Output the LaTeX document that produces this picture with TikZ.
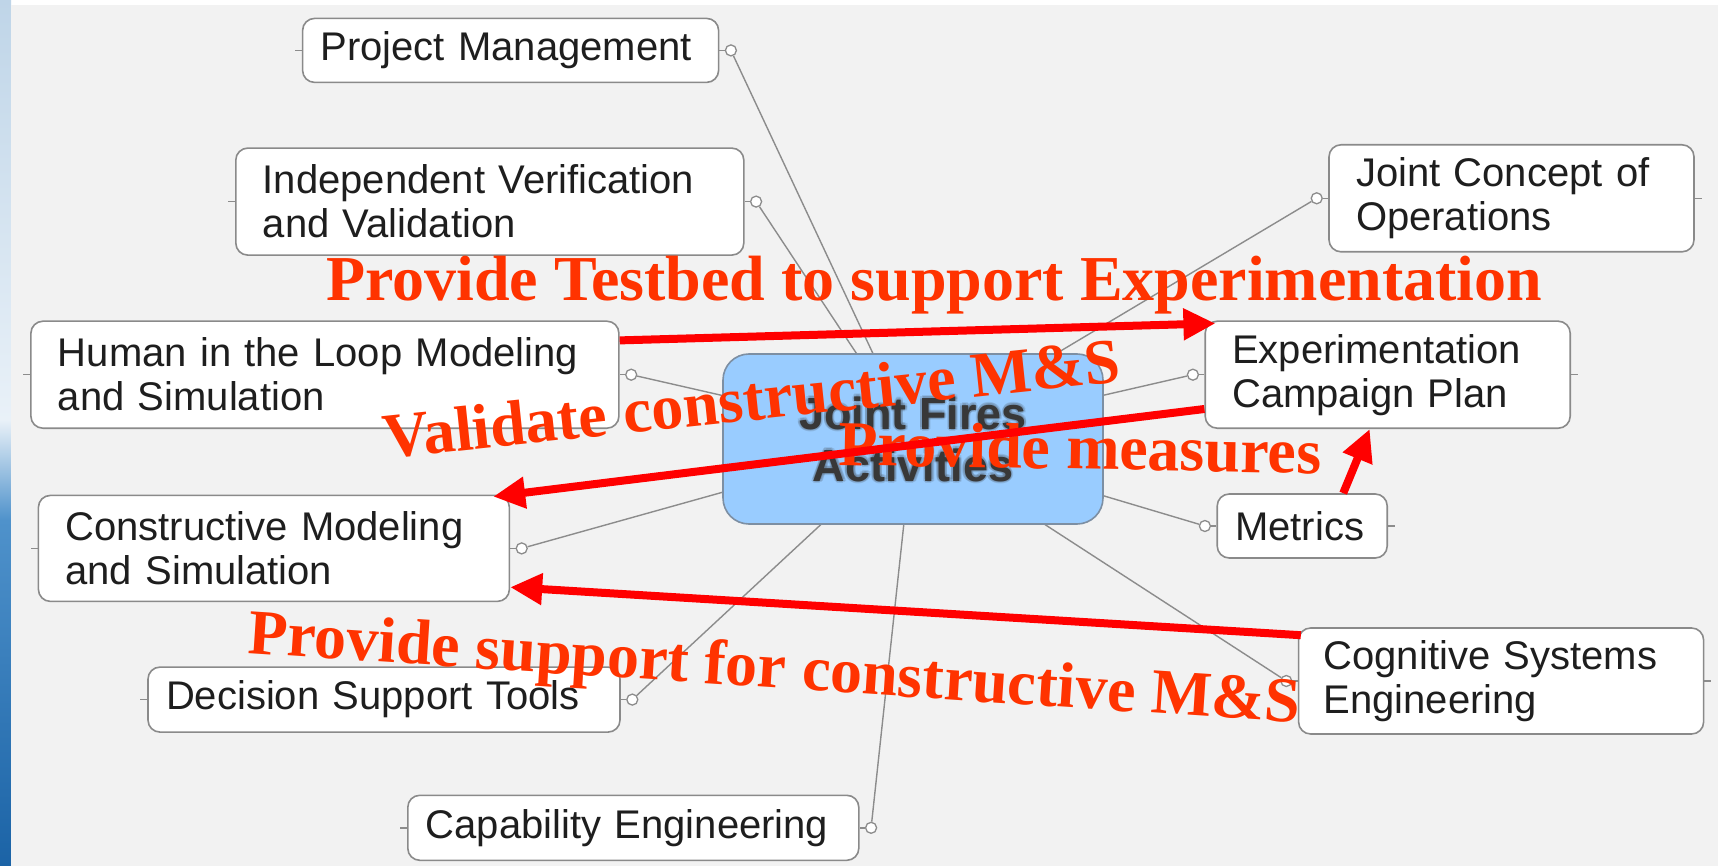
\documentclass[tikz,border=0pt]{standalone}
\usepackage{fontspec}
\setmainfont{Liberation Serif}
\newfontfamily\labelfont{Liberation Sans}
\usetikzlibrary{arrows.meta,calc}
\pgfdeclarelayer{canvas}
\pgfdeclarelayer{links}
\pgfsetlayers{canvas,links,main}
\definecolor{pagegray}{HTML}{F2F2F2}
\definecolor{boxline}{HTML}{8A8A8A}
\definecolor{linkgray}{HTML}{8C8C8C}
\definecolor{hubblue}{HTML}{99CCFF}
\definecolor{hubline}{HTML}{7D8FA3}
\definecolor{notered}{HTML}{FF3300}
\definecolor{arrowred}{HTML}{FF0000}
\definecolor{labelink}{HTML}{1E1E1E}
\definecolor{hubink}{HTML}{383838}
\definecolor{slideA}{HTML}{BFD5E8}
\definecolor{slideB}{HTML}{E9F1F8}
\definecolor{slideC}{HTML}{4F92CB}
\definecolor{slideD}{HTML}{1B63A6}
\begin{document}
\begin{tikzpicture}[x=1pt,y=-1pt,
  topic/.style={draw=boxline, line width=1.6pt, fill=white, rounded corners=12pt,
    font=\labelfont\fontsize{40}{44}\selectfont, text=labelink, align=left,
    inner ysep=0pt},
  hubnode/.style={draw=hubline, line width=1.6pt, fill=hubblue, rounded corners=26pt,
    font=\labelfont\bfseries\fontsize{45}{52}\selectfont, text=hubink, align=center,
    minimum width=380pt, minimum height=170pt},
  knob/.style={circle, draw=linkgray, line width=1.3pt, fill=white, inner sep=0pt,
    minimum size=11pt},
  linkline/.style={draw=linkgray, line width=1.4pt},
  redarrow/.style={draw=arrowred, line width=8pt, -{Triangle[length=32pt,width=30pt]}},
  rednote/.style={text=notered, font=\bfseries\fontsize{64}{70}\selectfont, inner sep=0pt}
]
\useasboundingbox (0,0) rectangle (1718,866);

% slide background: white margin, blue band on the left, grey canvas
\begin{pgfonlayer}{canvas}
\fill[white] (0,0) rectangle (1718,866);
\shade[top color=slideA, bottom color=slideB] (0,0) rectangle (11,420);
\shade[top color=slideB, bottom color=slideC] (0,420) rectangle (11,520);
\shade[top color=slideC, bottom color=slideD] (0,520) rectangle (11,866);
\fill[pagegray] (11,5) rectangle (1718,866);
\end{pgfonlayer}

% topic boxes, left side
\node[topic, minimum width=416pt, minimum height=64pt, text width=380pt, inner xsep=18pt]
  (pm) at (510.6,50.4) {Project Management};
\node[topic, minimum width=508pt, minimum height=107pt, text width=454pt, inner xsep=27pt]
  (ivv) at (489.8,201.6) {Independent Verification\\and Validation};
\node[topic, minimum width=588pt, minimum height=107pt, text width=534pt, inner xsep=27pt]
  (hitl) at (324.9,374.7) {Human in the Loop Modeling\\and Simulation};
\node[topic, minimum width=471pt, minimum height=106pt, text width=417pt, inner xsep=27pt]
  (cms) at (273.9,548.4) {Constructive Modeling\\and Simulation};
\node[topic, minimum width=472pt, minimum height=65pt, text width=436pt, inner xsep=18pt]
  (dst) at (384,699.6) {Decision Support Tools};
\node[topic, minimum width=451pt, minimum height=65pt, text width=415pt, inner xsep=18pt]
  (ce) at (633.3,827.8) {Capability Engineering};

% topic boxes, right side
\node[topic, minimum width=365pt, minimum height=107pt, text width=311pt, inner xsep=27pt]
  (jco) at (1511.5,198.3) {Joint Concept of\\Operations};
\node[topic, minimum width=365pt, minimum height=107pt, text width=311pt, inner xsep=27pt]
  (ecp) at (1387.7,374.7) {Experimentation\\Campaign Plan};
\node[topic, minimum width=170pt, minimum height=64pt, text width=134pt, inner xsep=18pt]
  (met) at (1302.2,526) {Metrics};
\node[topic, minimum width=405pt, minimum height=106pt, text width=355pt, inner xsep=25pt]
  (cse) at (1501.1,681) {Cognitive Systems\\Engineering};

% connection knobs and outer stubs
\foreach \n in {pm,ivv,hitl,cms,dst,ce} {
  \node[knob] (\n-knob) at ($(\n.east)+(11.5,0)$) {};
  \coordinate (\n-stub) at ($(\n.west)+(-7,0)$);
}
\foreach \n in {jco,ecp,met,cse} {
  \node[knob] (\n-knob) at ($(\n.west)+(-11.5,0)$) {};
  \coordinate (\n-stub) at ($(\n.east)+(7,0)$);
}

% central topic with a soft halo round its label
\node[hubnode] (hub) at (913,439) {Joint Fires\\Activities};
\foreach \a [count=\i] in {0,45,...,315} {
  \node[font=\labelfont\bfseries\fontsize{45}{52}\selectfont, align=center,
    text=hubink, text opacity=0.13] (hubhalo-\i) at ($(hub)+(\a:2.2)$) {Joint Fires\\Activities};
}

% links from the central topic, kept underneath the boxes
\begin{pgfonlayer}{links}
\foreach \n in {pm,ivv,hitl,cms,dst,ce,jco,ecp,met,cse} {
  \draw[linkline] (hub.center) -- (\n-knob);
  \draw[linkline] (\n-knob) -- (\n);
  \draw[linkline] (\n) -- (\n-stub);
}
\end{pgfonlayer}

% annotations
\node[rednote, anchor=base west] (tbed) at (326,301)
  {Provide Testbed to support Experimentation};
\node[rednote, anchor=base west, rotate=6] (valid) at (385,459)
  {Validate constructive M\&S};
\node[rednote, anchor=base west, rotate=-1] (meas) at (838,465)
  {Provide measures};
\node[rednote, anchor=base west, rotate=-3.8] (supp) at (247,653)
  {Provide support for constructive M\&S};

% relations
\draw[redarrow] ($(hitl.north east)+(0,20)$) -- ($(ecp.north west)+(11,3)$);
\draw[redarrow] ($(ecp.south west)+(0,-20)$) -- ($(cms.north east)+(-17,2)$);
\draw[redarrow] ($(met.north)+(41,0)$) -- ($(ecp.south)+(-18,0)$);
\draw[redarrow] ($(cse.north west)+(3,8)$) -- ($(cms.south east)+(0,-15)$);
\end{tikzpicture}
\end{document}
